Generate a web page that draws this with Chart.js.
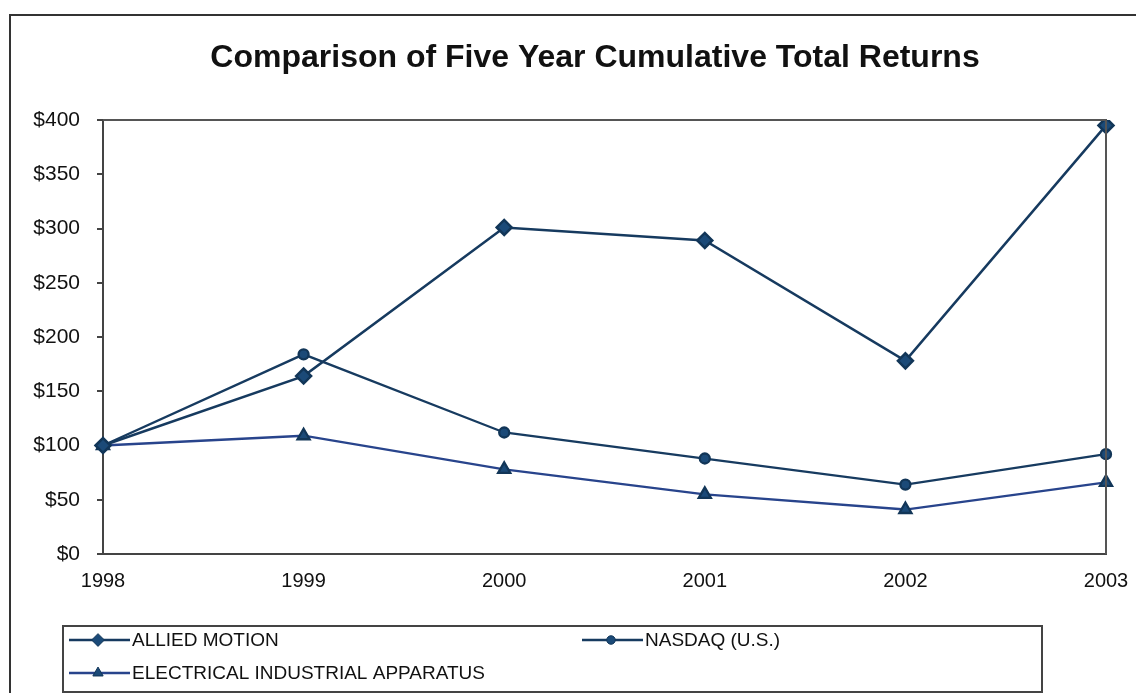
<!DOCTYPE html>
<html>
<head>
<meta charset="utf-8">
<script src="https://cdn.jsdelivr.net/npm/chart.js@4.4.1/dist/chart.umd.min.js"></script>
<style>
  html, body { margin: 0; padding: 0; background: #fff; }
  #wrap { width: 1136px; height: 693px; }
</style>
</head>
<body>
<div id="wrap"><canvas id="returns-chart" width="1136" height="693"></canvas></div>
<script>
// Données (valeur de 100 $ investis en 1998)
const annees = ['1998', '1999', '2000', '2001', '2002', '2003'];
const alliedMotion = [100, 164, 301, 289, 178, 395];
const nasdaq = [100, 184, 112, 88, 64, 92];
const electrical = [100, 109, 78, 55, 41, 66];
const titre = 'Comparison of Five Year Cumulative Total Returns';
const ticksY = [0, 50, 100, 150, 200, 250, 300, 350, 400];

const police = '"Liberation Sans", Arial, Helvetica, sans-serif';
const marine = '#163a5f';

// Cadre extérieur, titre, bordure du graphique et légende encadrée
const decor = {
    id: 'decor',
    beforeDraw(chart) {
        const c = chart.ctx;
        c.save();
        c.fillStyle = '#fff';
        c.fillRect(0, 0, chart.width, chart.height);
        c.strokeStyle = '#333';
        c.lineWidth = 2;
        c.strokeRect(10, 15, 1200, 720);
        c.restore();
    },
    afterDraw(chart) {
        const c = chart.ctx;
        const a = chart.chartArea;
        c.save();
        // bordure haut / droite de la zone de tracé
        c.strokeStyle = '#555';
        c.lineWidth = 2;
        c.beginPath();
        c.moveTo(a.left, a.top);
        c.lineTo(a.right, a.top);
        c.lineTo(a.right, a.bottom);
        c.stroke();

        // titre
        c.fillStyle = '#111';
        c.font = 'bold 32px ' + police;
        c.textAlign = 'center';
        c.textBaseline = 'middle';
        c.fillText(titre, 595, 58);

        // légende
        c.strokeStyle = '#444';
        c.lineWidth = 2;
        c.strokeRect(63, 626, 979, 66);
        const places = [[69, 640], [582, 640], [69, 673]];
        chart.data.datasets.forEach((ds, i) => {
            const [x, y] = places[i];
            c.strokeStyle = ds.borderColor;
            c.lineWidth = 2.5;
            c.beginPath();
            c.moveTo(x, y);
            c.lineTo(x + 61, y);
            c.stroke();
            c.fillStyle = ds.pointBackgroundColor;
            c.strokeStyle = ds.pointBorderColor;
            c.lineWidth = 1;
            Chart.helpers.drawPoint(c, {
                pointStyle: ds.pointStyle,
                radius: ds.pointRadius * 0.85,
                rotation: 0,
                borderWidth: 1
            }, x + 29, y);
            c.fillStyle = '#111';
            c.font = '19px ' + police;
            c.textAlign = 'left';
            c.textBaseline = 'middle';
            c.fillText(ds.label, x + 63, y + 1);
        });
        c.restore();
    }
};

const ctx = document.getElementById('returns-chart').getContext('2d');
new Chart(ctx, {
    type: 'line',
    data: {
        labels: annees,
        datasets: [{
            label: 'ALLIED MOTION',
            data: alliedMotion,
            borderColor: marine,
            borderWidth: 2.5,
            pointStyle: 'rectRot',
            pointRadius: 7.5,
            pointBackgroundColor: '#1b4a78',
            pointBorderColor: '#123658'
        }, {
            label: 'NASDAQ (U.S.)',
            data: nasdaq,
            borderColor: '#173b60',
            borderWidth: 2.3,
            pointStyle: 'circle',
            pointRadius: 5,
            pointBackgroundColor: '#1b4a78',
            pointBorderColor: '#123658'
        }, {
            label: 'ELECTRICAL INDUSTRIAL APPARATUS',
            data: electrical,
            borderColor: '#28448c',
            borderWidth: 2.3,
            pointStyle: 'triangle',
            pointRadius: 7,
            pointBackgroundColor: '#1b4a78',
            pointBorderColor: '#123658'
        }]
    },
    options: {
        responsive: false,
        animation: false,
        layout: { padding: { top: 120, right: 30, bottom: 79, left: 0 } },
        plugins: {
            legend: { display: false },
            title: { display: false },
            tooltip: { enabled: false }
        },
        scales: {
            x: {
                offset: false,
                afterFit(scale) { scale.height = 60; },
                grid: { display: true, drawOnChartArea: false, drawTicks: true, tickLength: 15, color: 'rgba(0,0,0,0)' },
                border: { display: true, color: '#444', width: 2 },
                ticks: {
                    padding: 0,
                    color: '#111',
                    font: { family: police, size: 20 },
                    maxRotation: 0
                }
            },
            y: {
                min: 0,
                max: 400,
                afterFit(scale) { scale.width = 103; },
                afterBuildTicks(scale) { scale.ticks = ticksY.map(v => ({ value: v })); },
                grid: { drawOnChartArea: false, drawTicks: true, tickLength: 6, color: '#444', lineWidth: 2 },
                border: { display: true, color: '#444', width: 2 },
                ticks: {
                    padding: 17,
                    color: '#111',
                    font: { family: police, size: 21 },
                    callback: v => '$' + v
                }
            }
        }
    },
    plugins: [decor]
});
</script>
</body>
</html>
